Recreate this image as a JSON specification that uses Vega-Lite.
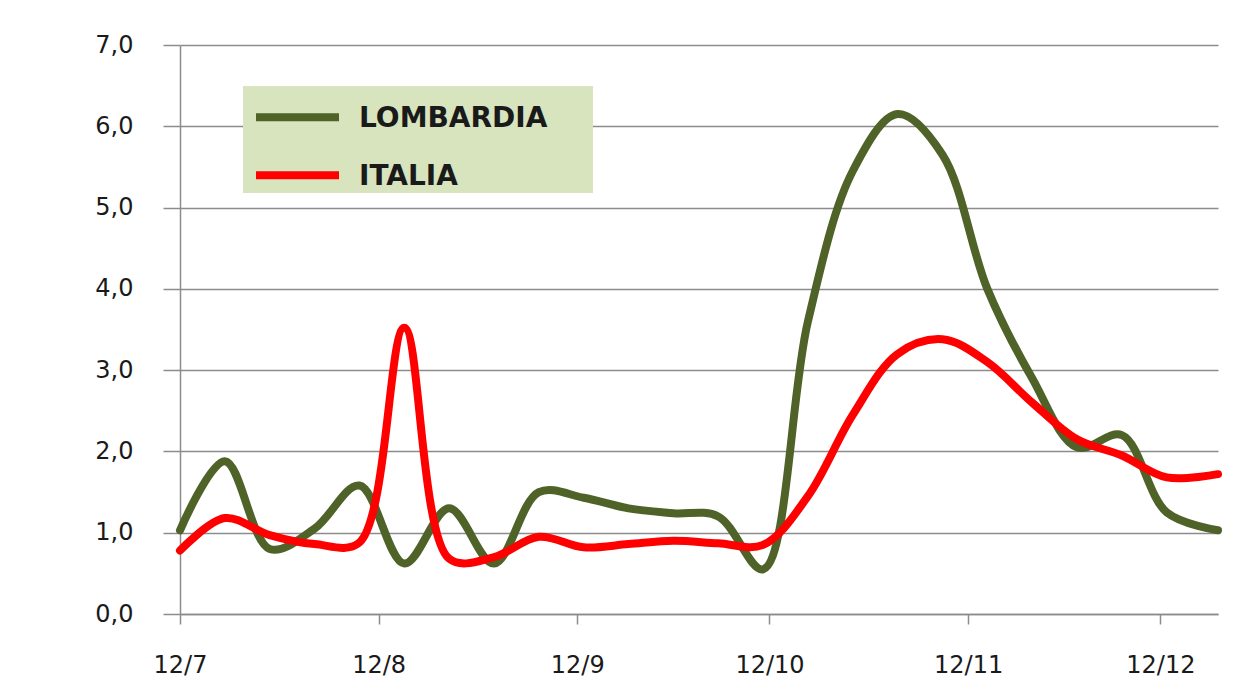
{
  "$schema": "https://vega.github.io/schema/vega-lite/v6.json",
  "width": 1038,
  "height": 569,
  "autosize": {"type": "none"},
  "padding": {"left": 180, "top": 45, "right": 19, "bottom": 75},
  "background": "white",
  "config": {
    "view": {"stroke": null},
    "font": "DejaVu Sans"
  },
  "data": {
    "values": [
      {"date": "2012-07-12", "serie": "LOMBARDIA", "value": 1.03},
      {"date": "2012-07-19", "serie": "LOMBARDIA", "value": 1.88},
      {"date": "2012-07-26", "serie": "LOMBARDIA", "value": 0.8},
      {"date": "2012-08-02", "serie": "LOMBARDIA", "value": 1.05},
      {"date": "2012-08-09", "serie": "LOMBARDIA", "value": 1.58},
      {"date": "2012-08-16", "serie": "LOMBARDIA", "value": 0.62},
      {"date": "2012-08-23", "serie": "LOMBARDIA", "value": 1.3},
      {"date": "2012-08-30", "serie": "LOMBARDIA", "value": 0.62},
      {"date": "2012-09-06", "serie": "LOMBARDIA", "value": 1.5},
      {"date": "2012-09-13", "serie": "LOMBARDIA", "value": 1.43},
      {"date": "2012-09-20", "serie": "LOMBARDIA", "value": 1.3},
      {"date": "2012-09-27", "serie": "LOMBARDIA", "value": 1.24},
      {"date": "2012-10-04", "serie": "LOMBARDIA", "value": 1.2},
      {"date": "2012-10-11", "serie": "LOMBARDIA", "value": 0.55},
      {"date": "2012-10-18", "serie": "LOMBARDIA", "value": 3.6},
      {"date": "2012-10-25", "serie": "LOMBARDIA", "value": 5.45},
      {"date": "2012-11-01", "serie": "LOMBARDIA", "value": 6.15},
      {"date": "2012-11-08", "serie": "LOMBARDIA", "value": 5.65},
      {"date": "2012-11-15", "serie": "LOMBARDIA", "value": 4.0},
      {"date": "2012-11-22", "serie": "LOMBARDIA", "value": 2.9},
      {"date": "2012-11-29", "serie": "LOMBARDIA", "value": 2.05},
      {"date": "2012-12-06", "serie": "LOMBARDIA", "value": 2.2},
      {"date": "2012-12-13", "serie": "LOMBARDIA", "value": 1.25},
      {"date": "2012-12-21", "serie": "LOMBARDIA", "value": 1.03},
      {"date": "2012-07-12", "serie": "ITALIA", "value": 0.78},
      {"date": "2012-07-19", "serie": "ITALIA", "value": 1.18},
      {"date": "2012-07-26", "serie": "ITALIA", "value": 0.97},
      {"date": "2012-08-02", "serie": "ITALIA", "value": 0.86},
      {"date": "2012-08-09", "serie": "ITALIA", "value": 0.88},
      {"date": "2012-08-16", "serie": "ITALIA", "value": 3.52},
      {"date": "2012-08-23", "serie": "ITALIA", "value": 0.68},
      {"date": "2012-08-30", "serie": "ITALIA", "value": 0.7},
      {"date": "2012-09-06", "serie": "ITALIA", "value": 0.95},
      {"date": "2012-09-13", "serie": "ITALIA", "value": 0.82},
      {"date": "2012-09-20", "serie": "ITALIA", "value": 0.86},
      {"date": "2012-09-27", "serie": "ITALIA", "value": 0.9},
      {"date": "2012-10-04", "serie": "ITALIA", "value": 0.87},
      {"date": "2012-10-11", "serie": "ITALIA", "value": 0.85},
      {"date": "2012-10-18", "serie": "ITALIA", "value": 1.45},
      {"date": "2012-10-25", "serie": "ITALIA", "value": 2.45},
      {"date": "2012-11-01", "serie": "ITALIA", "value": 3.2},
      {"date": "2012-11-08", "serie": "ITALIA", "value": 3.38},
      {"date": "2012-11-15", "serie": "ITALIA", "value": 3.1},
      {"date": "2012-11-22", "serie": "ITALIA", "value": 2.6},
      {"date": "2012-11-29", "serie": "ITALIA", "value": 2.15},
      {"date": "2012-12-06", "serie": "ITALIA", "value": 1.95},
      {"date": "2012-12-13", "serie": "ITALIA", "value": 1.68},
      {"date": "2012-12-21", "serie": "ITALIA", "value": 1.72}
    ]
  },
  "mark": {"type": "line", "interpolate": "catmull-rom", "strokeWidth": 8, "strokeCap": "round", "strokeJoin": "round", "clip": false},
  "encoding": {
    "x": {
      "field": "date",
      "type": "temporal",
      "scale": {
        "type": "utc",
        "domain": [
          {"year": 2012, "month": 7, "date": 12, "utc": true},
          {"year": 2012, "month": 12, "date": 21, "utc": true}
        ]
      },
      "axis": {
        "title": null,
        "values": [
          {"year": 2012, "month": 7, "date": 12, "utc": true},
          {"year": 2012, "month": 8, "date": 12, "utc": true},
          {"year": 2012, "month": 9, "date": 12, "utc": true},
          {"year": 2012, "month": 10, "date": 12, "utc": true},
          {"year": 2012, "month": 11, "date": 12, "utc": true},
          {"year": 2012, "month": 12, "date": 12, "utc": true}
        ],
        "labelExpr": "utcFormat(datum.value, '%-d/%-m')",
        "grid": false,
        "domainColor": "#8c8c8c",
        "domainWidth": 1.5,
        "tickColor": "#8c8c8c",
        "tickWidth": 1.5,
        "tickSize": 10,
        "labelPadding": 29,
        "labelFont": "DejaVu Sans",
        "labelFontSize": 24,
        "labelColor": "#1a1a1a",
        "labelBaseline": "top",
        "labelFlush": false
      }
    },
    "y": {
      "field": "value",
      "type": "quantitative",
      "scale": {"domain": [0, 7], "nice": false, "zero": true},
      "axis": {
        "title": null,
        "values": [0, 1, 2, 3, 4, 5, 6, 7],
        "labelExpr": "replace(format(datum.value, '.1f'), '.', ',')",
        "grid": true,
        "gridColor": "#8c8c8c",
        "gridWidth": 1.5,
        "domainColor": "#8c8c8c",
        "domainWidth": 1.5,
        "tickColor": "#8c8c8c",
        "tickWidth": 1.5,
        "tickSize": 17,
        "labelPadding": 30,
        "labelFont": "DejaVu Sans",
        "labelFontSize": 24,
        "labelColor": "#1a1a1a"
      }
    },
    "color": {
      "field": "serie",
      "type": "nominal",
      "scale": {"domain": ["LOMBARDIA", "ITALIA"], "range": ["#4f6228", "#ff0000"]},
      "legend": {
        "title": null,
        "orient": "none",
        "legendX": 63,
        "legendY": 41,
        "fillColor": "#d7e4bd",
        "padding": 1,
        "symbolType": "M-1,-0.37L1,-0.37",
        "symbolStrokeWidth": 8,
        "symbolSize": 6889,
        "symbolOffset": 8,
        "symbolFillColor": "transparent",
        "labelFont": "DejaVu Sans",
        "labelFontWeight": "bold",
        "labelFontSize": 28,
        "labelColor": "#1a1a1a",
        "labelBaseline": "bottom",
        "labelOffset": 16,
        "labelLimit": 500,
        "labelExpr": "datum.label + '\u2800\u2800'",
        "rowPadding": 11
      }
    }
  }
}
